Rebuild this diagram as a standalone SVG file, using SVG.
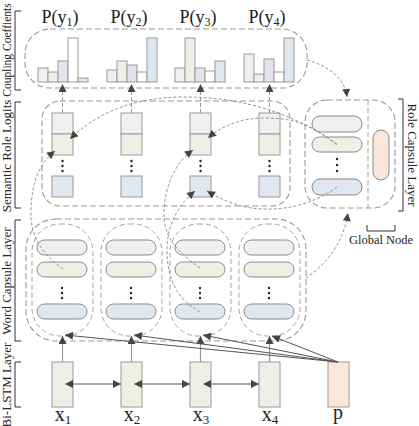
<svg xmlns="http://www.w3.org/2000/svg" width="419" height="426" viewBox="0 0 419 426">
<defs>
<style>
.t{font-family:"Liberation Serif","Times New Roman",serif;fill:#222}
.lab{font-size:13px;text-anchor:middle}
.gn{font-size:12.5px;text-anchor:middle}
.big{font-size:18px;text-anchor:middle}
.xl{font-size:20px;text-anchor:middle}
.box{fill:none;stroke:#9a9a9a;stroke-width:1.1;stroke-dasharray:6,3}
.inner{fill:none;stroke:#9a9a9a;stroke-width:0.9;stroke-dasharray:5,3}
.cur{fill:none;stroke:#8a8a8a;stroke-width:0.9;stroke-dasharray:3,2}
.vd{fill:none;stroke:#9a9a9a;stroke-width:1;stroke-dasharray:4,2}
.br{fill:none;stroke:#333;stroke-width:1}
.cell{stroke:#9a9a9a;stroke-width:1}
.cap{stroke:#8a8a8a;stroke-width:1}
.g0{fill:#f0f0f0}.g1{fill:#edf0e4}.g2{fill:#e5e2ee}.g3{fill:#ffffff}.g4{fill:#dfe8f1}.pe{fill:#fbe6da}
.sol{stroke:#555;stroke-width:1;fill:none}
.gl{stroke:#999;stroke-width:1.2;fill:none}
.dot{fill:#222}
</style>
<marker id="ah" viewBox="0 0 10 10" refX="10" refY="5" markerWidth="9" markerHeight="8" markerUnits="userSpaceOnUse" orient="auto">
<path d="M0,0 L10,5 L0,10 z" fill="#444"/>
</marker>
<marker id="ahs" viewBox="0 0 10 10" refX="0" refY="5" markerWidth="9" markerHeight="8" markerUnits="userSpaceOnUse" orient="auto-start-reverse">
<path d="M0,0 L10,5 L0,10 z" fill="#444"/>
</marker>
</defs>

<g id="labels-left">
<path class="br" d="M21,11 H15 V90 H21"/>
<text class="t" font-size="11.5" text-anchor="middle" transform="translate(11,50) rotate(-90)">Coupling Coeffients</text>
<path class="br" d="M21,102 H15 V208 H21"/>
<text class="t lab" transform="translate(11,156) rotate(-90)">Semantic Role Logits</text>
<path class="br" d="M21,220 H15 V341 H21"/>
<text class="t lab" transform="translate(11,281) rotate(-90)">Word Capsule Layer</text>
<path class="br" d="M21,362 H15 V407 H21"/>
<text class="t lab" transform="translate(11,385) rotate(-90)">Bi-LSTM Layer</text>
</g>

<g id="coupling">
<rect class="box" x="25" y="29" width="282" height="59" rx="25"/>
<text class="t big" x="60" y="23">P(y<tspan font-size="12" dy="3">1</tspan><tspan dy="-3">)</tspan></text>
<text class="t big" x="129" y="23">P(y<tspan font-size="12" dy="3">2</tspan><tspan dy="-3">)</tspan></text>
<text class="t big" x="198" y="23">P(y<tspan font-size="12" dy="3">3</tspan><tspan dy="-3">)</tspan></text>
<text class="t big" x="267" y="23">P(y<tspan font-size="12" dy="3">4</tspan><tspan dy="-3">)</tspan></text>
<g id="hist1">
<rect class="cell g0" x="38" y="68" width="10" height="14"/>
<rect class="cell g1" x="48" y="72" width="10" height="10"/>
<rect class="cell g2" x="58" y="61" width="10" height="21"/>
<rect class="cell g3" x="68" y="38" width="10" height="44"/>
<rect class="cell g4" x="78" y="78" width="10" height="4"/>
</g>
<g id="hist2">
<rect class="cell g0" x="107" y="70" width="10" height="12"/>
<rect class="cell g1" x="117" y="61" width="10" height="21"/>
<rect class="cell g2" x="127" y="65" width="10" height="17"/>
<rect class="cell g3" x="137" y="72" width="10" height="10"/>
<rect class="cell g4" x="147" y="38" width="10" height="44"/>
</g>
<g id="hist3">
<rect class="cell g0" x="175" y="68" width="10" height="14"/>
<rect class="cell g1" x="185" y="38" width="10" height="44"/>
<rect class="cell g2" x="195" y="68" width="10" height="14"/>
<rect class="cell g3" x="205" y="71" width="10" height="11"/>
<rect class="cell g4" x="215" y="61" width="10" height="21"/>
</g>
<g id="hist4">
<rect class="cell g0" x="244" y="54" width="10" height="28"/>
<rect class="cell g1" x="254" y="74" width="10" height="8"/>
<rect class="cell g2" x="264" y="59" width="10" height="23"/>
<rect class="cell g3" x="274" y="72" width="10" height="10"/>
<rect class="cell g4" x="284" y="38" width="10" height="44"/>
</g>
</g>

<g id="semantic">
<rect class="box" x="42" y="101" width="248" height="105" rx="18"/>
<g id="sem1">
<rect class="cell g0" x="52" y="113" width="21" height="21"/>
<rect class="cell g1" x="52" y="134" width="21" height="21"/>
<circle class="dot" cx="62.5" cy="161" r="1.2"/><circle class="dot" cx="62.5" cy="166" r="1.2"/><circle class="dot" cx="62.5" cy="171" r="1.2"/>
<rect class="cell g4" x="52" y="176" width="21" height="21"/>
</g>
<g id="sem2">
<rect class="cell g0" x="121" y="113" width="21" height="21"/>
<rect class="cell g1" x="121" y="134" width="21" height="21"/>
<circle class="dot" cx="131.5" cy="161" r="1.2"/><circle class="dot" cx="131.5" cy="166" r="1.2"/><circle class="dot" cx="131.5" cy="171" r="1.2"/>
<rect class="cell g4" x="121" y="176" width="21" height="21"/>
</g>
<g id="sem3">
<rect class="cell g0" x="190" y="113" width="21" height="21"/>
<rect class="cell g1" x="190" y="134" width="21" height="21"/>
<circle class="dot" cx="200.5" cy="161" r="1.2"/><circle class="dot" cx="200.5" cy="166" r="1.2"/><circle class="dot" cx="200.5" cy="171" r="1.2"/>
<rect class="cell g4" x="190" y="176" width="21" height="21"/>
</g>
<g id="sem4">
<rect class="cell g0" x="259" y="113" width="21" height="21"/>
<rect class="cell g1" x="259" y="134" width="21" height="21"/>
<circle class="dot" cx="269.5" cy="161" r="1.2"/><circle class="dot" cx="269.5" cy="166" r="1.2"/><circle class="dot" cx="269.5" cy="171" r="1.2"/>
<rect class="cell g4" x="259" y="176" width="21" height="21"/>
</g>
</g>

<g id="role">
<rect class="box" x="305" y="100" width="90" height="108" rx="22"/>
<path class="inner" d="M368,100 V208"/>
<rect class="cap g0" x="312" y="116" width="50" height="16" rx="8"/>
<rect class="cap g1" x="312" y="137" width="50" height="15" rx="7.5"/>
<circle class="dot" cx="337" cy="159" r="1.2"/><circle class="dot" cx="337" cy="165" r="1.2"/><circle class="dot" cx="337" cy="171" r="1.2"/>
<rect class="cap g4" x="312" y="179" width="50" height="16" rx="8"/>
<text class="t lab" transform="translate(408,155) rotate(90)">Role Capsule Layer</text>
<path class="br" d="M398,99 H403 V211 H398"/>
</g>

<g id="global">
<rect class="cap pe" x="373" y="130" width="16" height="50" rx="8"/>
<path class="br" d="M367,225 V231 H395 V225"/>
<text class="t gn" x="381" y="244">Global Node</text>
</g>

<g id="wordcaps">
<rect class="box" x="26" y="219" width="280" height="122" rx="30"/>
<g id="wc1">
<rect class="inner" x="32" y="224" width="61" height="112" rx="28"/>
<rect class="cap g0" x="37" y="240" width="50" height="15" rx="7.5"/>
<rect class="cap g1" x="37" y="262" width="50" height="15" rx="7.5"/>
<circle class="dot" cx="62" cy="288" r="1.2"/><circle class="dot" cx="62" cy="293" r="1.2"/><circle class="dot" cx="62" cy="298" r="1.2"/>
<rect class="cap g4" x="37" y="304" width="50" height="15" rx="7.5"/>
</g>
<g id="wc2">
<rect class="inner" x="101" y="224" width="61" height="112" rx="28"/>
<rect class="cap g0" x="106" y="240" width="50" height="15" rx="7.5"/>
<rect class="cap g1" x="106" y="262" width="50" height="15" rx="7.5"/>
<circle class="dot" cx="131" cy="288" r="1.2"/><circle class="dot" cx="131" cy="293" r="1.2"/><circle class="dot" cx="131" cy="298" r="1.2"/>
<rect class="cap g4" x="106" y="304" width="50" height="15" rx="7.5"/>
</g>
<g id="wc3">
<rect class="inner" x="170" y="224" width="61" height="112" rx="28"/>
<rect class="cap g0" x="175" y="240" width="50" height="15" rx="7.5"/>
<rect class="cap g1" x="175" y="262" width="50" height="15" rx="7.5"/>
<circle class="dot" cx="200" cy="288" r="1.2"/><circle class="dot" cx="200" cy="293" r="1.2"/><circle class="dot" cx="200" cy="298" r="1.2"/>
<rect class="cap g4" x="175" y="304" width="50" height="15" rx="7.5"/>
</g>
<g id="wc4">
<rect class="inner" x="239" y="224" width="61" height="112" rx="28"/>
<rect class="cap g0" x="244" y="240" width="50" height="15" rx="7.5"/>
<rect class="cap g1" x="244" y="262" width="50" height="15" rx="7.5"/>
<circle class="dot" cx="269" cy="288" r="1.2"/><circle class="dot" cx="269" cy="293" r="1.2"/><circle class="dot" cx="269" cy="298" r="1.2"/>
<rect class="cap g4" x="244" y="304" width="50" height="15" rx="7.5"/>
</g>
</g>

<g id="bilstm">
<g id="h1"><rect class="cell g1" x="52" y="362" width="21" height="45"/><text class="t xl" x="63" y="421">x<tspan font-size="13" dy="3">1</tspan></text></g>
<g id="h2"><rect class="cell g1" x="121" y="362" width="21" height="45"/><text class="t xl" x="132" y="421">x<tspan font-size="13" dy="3">2</tspan></text></g>
<g id="h3"><rect class="cell g1" x="190" y="362" width="21" height="45"/><text class="t xl" x="201" y="421">x<tspan font-size="13" dy="3">3</tspan></text></g>
<g id="h4"><rect class="cell g1" x="259" y="362" width="21" height="45"/><text class="t xl" x="270" y="421">x<tspan font-size="13" dy="3">4</tspan></text></g>
<g id="p"><rect class="cell pe" x="328" y="362" width="21" height="45"/><text class="t xl" x="338" y="419">p</text></g>
</g>

<g id="connectors">
<path class="vd" d="M62.5,113 V84" marker-end="url(#ah)"/>
<path class="vd" d="M131.5,113 V84" marker-end="url(#ah)"/>
<path class="vd" d="M200.5,113 V84" marker-end="url(#ah)"/>
<path class="vd" d="M269.5,113 V84" marker-end="url(#ah)"/>
<path class="cur" d="M63,269 C40,252 30,235 31,210 C32,180 40,163 55,151" marker-end="url(#ah)"/>
<path class="cur" d="M337,144 C300,118 250,97 185,97 C130,97 95,115 70,139" marker-end="url(#ah)"/>
<path class="cur" d="M200,268 C178,252 163,238 164,212 C165,185 175,163 193,150" marker-end="url(#ah)"/>
<path class="cur" d="M337,145 C315,128 300,118 265,118 C240,118 222,126 208,138" marker-end="url(#ah)"/>
<path class="cur" d="M200,312 C178,300 167,280 167,250 C167,225 178,205 195,191" marker-end="url(#ah)"/>
<path class="cur" d="M337,187 C315,203 290,210 262,209 C240,208 222,200 207,191" marker-end="url(#ah)"/>
<path class="cur" d="M307,60 C328,66 345,78 347,97" marker-end="url(#ah)"/>
<path class="cur" d="M306,278 C325,265 343,245 348,213" marker-end="url(#ah)"/>
<path class="gl" d="M62.5,362 V336" marker-end="url(#ah)"/>
<path class="gl" d="M131.5,362 V336" marker-end="url(#ah)"/>
<path class="gl" d="M200.5,362 V336" marker-end="url(#ah)"/>
<path class="gl" d="M269.5,362 V336" marker-end="url(#ah)"/>
<path class="sol" d="M338,362 L65,335" marker-end="url(#ah)"/>
<path class="sol" d="M338,362 L134,335" marker-end="url(#ah)"/>
<path class="sol" d="M338,362 L203,335" marker-end="url(#ah)"/>
<path class="sol" d="M338,362 L272,336" marker-end="url(#ah)"/>
<path class="sol" d="M73,384 H121" marker-start="url(#ahs)" marker-end="url(#ah)"/>
<path class="sol" d="M142,384 H190" marker-start="url(#ahs)" marker-end="url(#ah)"/>
<path class="sol" d="M211,384 H259" marker-start="url(#ahs)" marker-end="url(#ah)"/>
</g>
</svg>
